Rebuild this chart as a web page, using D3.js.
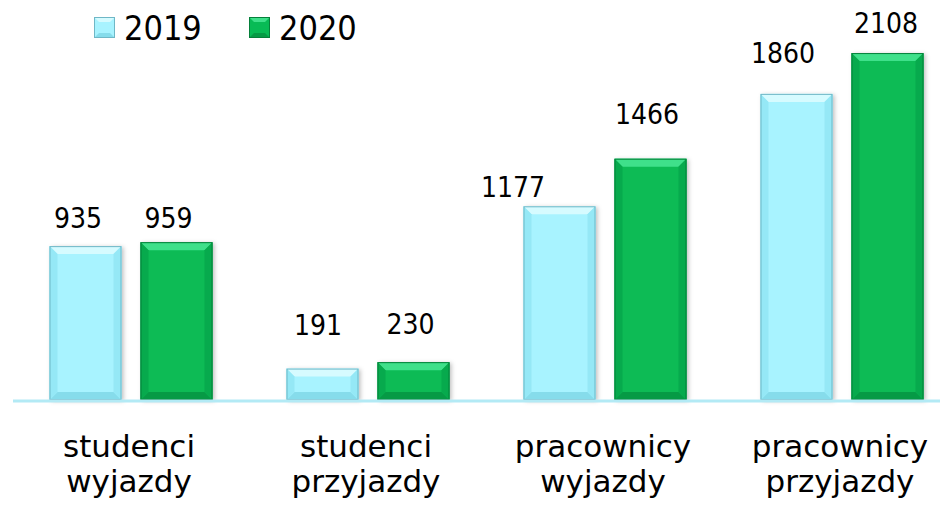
<!DOCTYPE html>
<html><head><meta charset="utf-8">
<script src="https://cdn.jsdelivr.net/npm/d3@7"></script>
<style>body{margin:0;background:#fff}svg{display:block}</style>
</head><body>
<svg id="c" width="949" height="510"></svg>
<script>
const categories = [["studenci","wyjazdy"],["studenci","przyjazdy"],["pracownicy","wyjazdy"],["pracownicy","przyjazdy"]];
const seriesNames = ["2019","2020"];
const values2019 = [935, 191, 1177, 1860];
const values2020 = [959, 230, 1466, 2108];

// manual label nudges (as placed in the reference), px: [dx, dy from bar top]
const labelNudge2019 = [[-7.5,-18],[-4.5,-34],[-46.5,-9],[-13.5,-31]];
const labelNudge2020 = [[-8,-14],[-3,-28],[-3.5,-35],[-1.5,-20]];

const NUMFONT = "'DejaVu Sans Condensed','DejaVu Sans',sans-serif";
const CATFONT = "'DejaVu Sans',sans-serif";
const svg = d3.select("#c");
const catKeys = categories.map(c => c.join(" "));
const x0 = d3.scaleBand().domain(catKeys).range([12.5, 960.5]).padding(0);
const x1 = d3.scaleBand().domain(seriesNames).range([37, 200]).paddingInner(0.2088);
const y = d3.scaleLinear().domain([0, 2400]).range([400, 5]);

const styles = {
  "2019": {base:"#A8F3FF", top:"#D6FBFF", bottom:"#86DCEB", side:"#95E8F6", stroke:"#6FB7C6"},
  "2020": {base:"#08BB55", top:"#3FE08A", bottom:"#069A45", side:"#07AA4D", stroke:"#05803A"}
};

const defs = svg.append("defs");
const f = defs.append("filter").attr("id","sh").attr("x","-20%").attr("y","-20%").attr("width","150%").attr("height","150%");
f.append("feDropShadow").attr("dx",2).attr("dy",1).attr("stdDeviation",2).attr("flood-color","#000").attr("flood-opacity",0.25);

const data = [];
catKeys.forEach((k,i) => {
  data.push({cat:k, s:"2019", v:values2019[i], n:labelNudge2019[i]});
  data.push({cat:k, s:"2020", v:values2020[i], n:labelNudge2020[i]});
});

const g = svg.append("g");
const bw = x1.bandwidth();
const B = 8;
const pts = a => a.map(p=>p.join(",")).join(" ");
data.forEach(d => {
  const x = x0(d.cat) + x1(d.s), yt = y(d.v), yb = y(0), st = styles[d.s];
  const bar = g.append("g");
  bar.append("rect").attr("x",x).attr("y",yt).attr("width",bw).attr("height",yb-yt)
    .attr("fill",st.base).attr("filter","url(#sh)");
  const b = Math.min(B, (yb-yt)/2);
  bar.append("polygon").attr("points",pts([[x,yt],[x+bw,yt],[x+bw-b,yt+b],[x+b,yt+b]])).attr("fill",st.top);
  bar.append("polygon").attr("points",pts([[x,yb],[x+bw,yb],[x+bw-b,yb-b],[x+b,yb-b]])).attr("fill",st.bottom);
  bar.append("polygon").attr("points",pts([[x,yt],[x+b,yt+b],[x+b,yb-b],[x,yb]])).attr("fill",st.side);
  bar.append("polygon").attr("points",pts([[x+bw,yt],[x+bw-b,yt+b],[x+bw-b,yb-b],[x+bw,yb]])).attr("fill",st.side);
  bar.append("rect").attr("x",x+0.5).attr("y",yt+0.5).attr("width",bw-1).attr("height",yb-yt-1)
    .attr("fill","none").attr("stroke",st.stroke).attr("stroke-width",1);
  g.append("text").attr("x",x+bw/2+d.n[0]).attr("y",yt+d.n[1]).attr("text-anchor","middle")
    .attr("font-family",NUMFONT).attr("font-size",28).attr("fill","#000").text(d.v);
});

// axis line
svg.append("line").attr("x1",13).attr("x2",940).attr("y1",y(0)+1).attr("y2",y(0)+1)
  .attr("stroke","#B3EAF5").attr("stroke-width",3);

// category labels
categories.forEach((c,i) => {
  const cx = x0(catKeys[i]) + x0.bandwidth()/2 - 2;
  c.forEach((line,j) => svg.append("text").attr("text-anchor","middle").attr("font-family",CATFONT)
    .attr("font-size",31).attr("fill","#000").attr("x",cx).attr("y",457 + j*35).text(line));
});

// legend
const legX = [94, 249];
seriesNames.forEach((s,i) => {
  const st = styles[s], lx = legX[i], ly = 17, sz = 21, b = 5;
  const lg = svg.append("g");
  lg.append("rect").attr("x",lx).attr("y",ly).attr("width",sz).attr("height",sz).attr("fill",st.base);
  lg.append("polygon").attr("points",pts([[lx,ly],[lx+sz,ly],[lx+sz-b,ly+b],[lx+b,ly+b]])).attr("fill",st.top);
  lg.append("polygon").attr("points",pts([[lx,ly+sz],[lx+sz,ly+sz],[lx+sz-b,ly+sz-b],[lx+b,ly+sz-b]])).attr("fill",st.bottom);
  lg.append("rect").attr("x",lx+0.5).attr("y",ly+0.5).attr("width",sz-1).attr("height",sz-1).attr("fill","none").attr("stroke",st.stroke);
  lg.append("text").attr("x",lx+30).attr("y",40).attr("font-family",NUMFONT).attr("font-size",34)
    .attr("fill","#000").text(s);
});
</script>
</body></html>
